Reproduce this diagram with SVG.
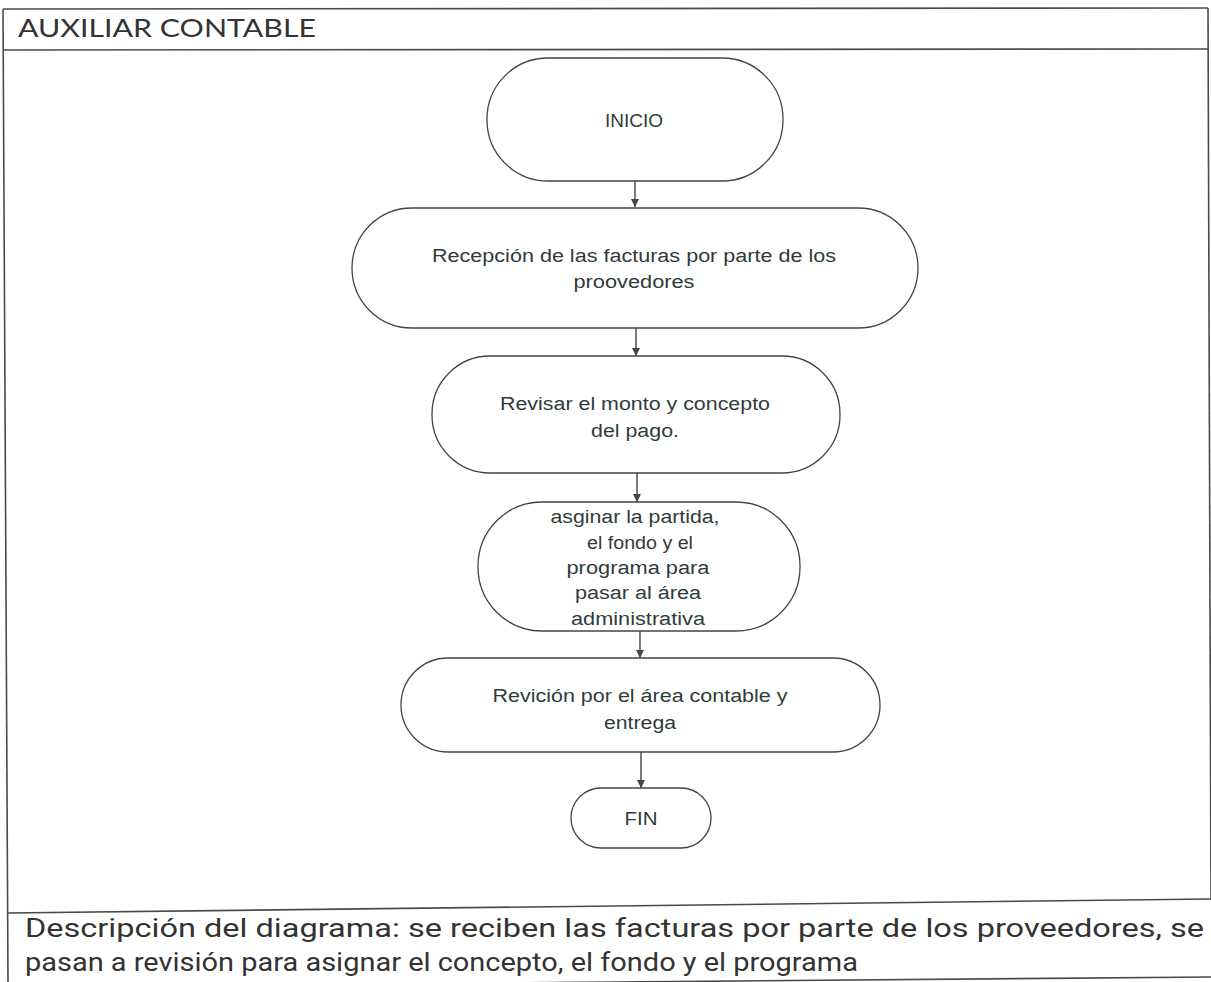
<svg xmlns="http://www.w3.org/2000/svg" width="1211" height="982" viewBox="0 0 1211 982">
<defs>
<style>
.frame{fill:none;stroke:#4a4a4a;stroke-width:1.6}
.node{fill:#ffffff;stroke:#444;stroke-width:1.3}
.t{font-family:"Liberation Sans",Arial,sans-serif;font-size:18px;fill:#2f3b3b;text-anchor:middle}
.conn{stroke:#444;stroke-width:1.4;fill:none}
.hdr{font-family:"Lato","Open Sans",sans-serif;font-size:25px;fill:#333}
.desc{font-family:Roboto,"Noto Sans",sans-serif;font-size:26px;fill:#333}
</style>
<marker id="ah" viewBox="0 0 10 10" refX="10" refY="5" markerWidth="8" markerHeight="8" markerUnits="userSpaceOnUse" orient="auto">
<path d="M0,0 L10,5 L0,10 Z" fill="#444"/>
</marker>
</defs>
<rect width="1211" height="982" fill="#ffffff"/>
<g id="frame">
<line class="frame" x1="3" y1="9" x2="1208" y2="8"/>
<line class="frame" x1="3" y1="9" x2="8" y2="982"/>
<line class="frame" x1="1208" y1="8" x2="1211" y2="900"/>
<line class="frame" x1="3" y1="50" x2="1208" y2="49"/>
<line class="frame" x1="8" y1="913" x2="1211" y2="899"/>
<line class="frame" x1="500" y1="983" x2="1211" y2="977"/>
<text class="hdr" x="18" y="37" textLength="298" lengthAdjust="spacingAndGlyphs">AUXILIAR CONTABLE</text>
<text class="desc" x="25" y="937" textLength="1179" lengthAdjust="spacingAndGlyphs">Descripción del diagrama: se reciben las facturas por parte de los proveedores, se</text>
<text class="desc" x="25" y="971" textLength="833" lengthAdjust="spacingAndGlyphs">pasan a revisión para asignar el concepto, el fondo y el programa</text>
</g>
<g id="connectors">
<line class="conn" x1="635" y1="181" x2="635" y2="207" marker-end="url(#ah)"/>
<line class="conn" x1="636" y1="328" x2="636" y2="356" marker-end="url(#ah)"/>
<line class="conn" x1="637" y1="473" x2="637" y2="502" marker-end="url(#ah)"/>
<line class="conn" x1="640" y1="631" x2="640" y2="658" marker-end="url(#ah)"/>
<line class="conn" x1="641" y1="752" x2="641" y2="788" marker-end="url(#ah)"/>
</g>
<g id="inicio">
<rect class="node" x="487" y="58" width="296" height="123" rx="61" ry="61"/>
<text class="t" x="634" y="127" textLength="58" lengthAdjust="spacingAndGlyphs">INICIO</text>
</g>
<g id="recepcion">
<rect class="node" x="352" y="208" width="566" height="120" rx="60" ry="60"/>
<text class="t" x="634" y="262" textLength="404" lengthAdjust="spacingAndGlyphs">Recepción de las facturas por parte de los</text>
<text class="t" x="634" y="288" textLength="121" lengthAdjust="spacingAndGlyphs">proovedores</text>
</g>
<g id="revisar">
<rect class="node" x="432" y="356" width="408" height="117" rx="58" ry="58"/>
<text class="t" x="635" y="410" textLength="270" lengthAdjust="spacingAndGlyphs">Revisar el monto y concepto</text>
<text class="t" x="635" y="437" textLength="88" lengthAdjust="spacingAndGlyphs">del pago.</text>
</g>
<g id="asignar">
<rect class="node" x="478" y="502" width="322" height="129" rx="64" ry="64"/>
<text class="t" x="635" y="523" textLength="169" lengthAdjust="spacingAndGlyphs">asginar la partida,</text>
<text class="t" x="640" y="549" textLength="106" lengthAdjust="spacingAndGlyphs">el fondo y el</text>
<text class="t" x="638" y="574" textLength="143" lengthAdjust="spacingAndGlyphs">programa para</text>
<text class="t" x="638" y="599" textLength="126" lengthAdjust="spacingAndGlyphs">pasar al área</text>
<text class="t" x="638" y="625" textLength="134" lengthAdjust="spacingAndGlyphs">administrativa</text>
</g>
<g id="revicion">
<rect class="node" x="401" y="658" width="479" height="94" rx="47" ry="47"/>
<text class="t" x="640" y="702" textLength="295" lengthAdjust="spacingAndGlyphs">Revición por el área contable y</text>
<text class="t" x="640" y="729" textLength="72" lengthAdjust="spacingAndGlyphs">entrega</text>
</g>
<g id="fin">
<rect class="node" x="571" y="788" width="140" height="60" rx="30" ry="30"/>
<text class="t" x="641" y="825" textLength="33" lengthAdjust="spacingAndGlyphs">FIN</text>
</g>
</svg>
